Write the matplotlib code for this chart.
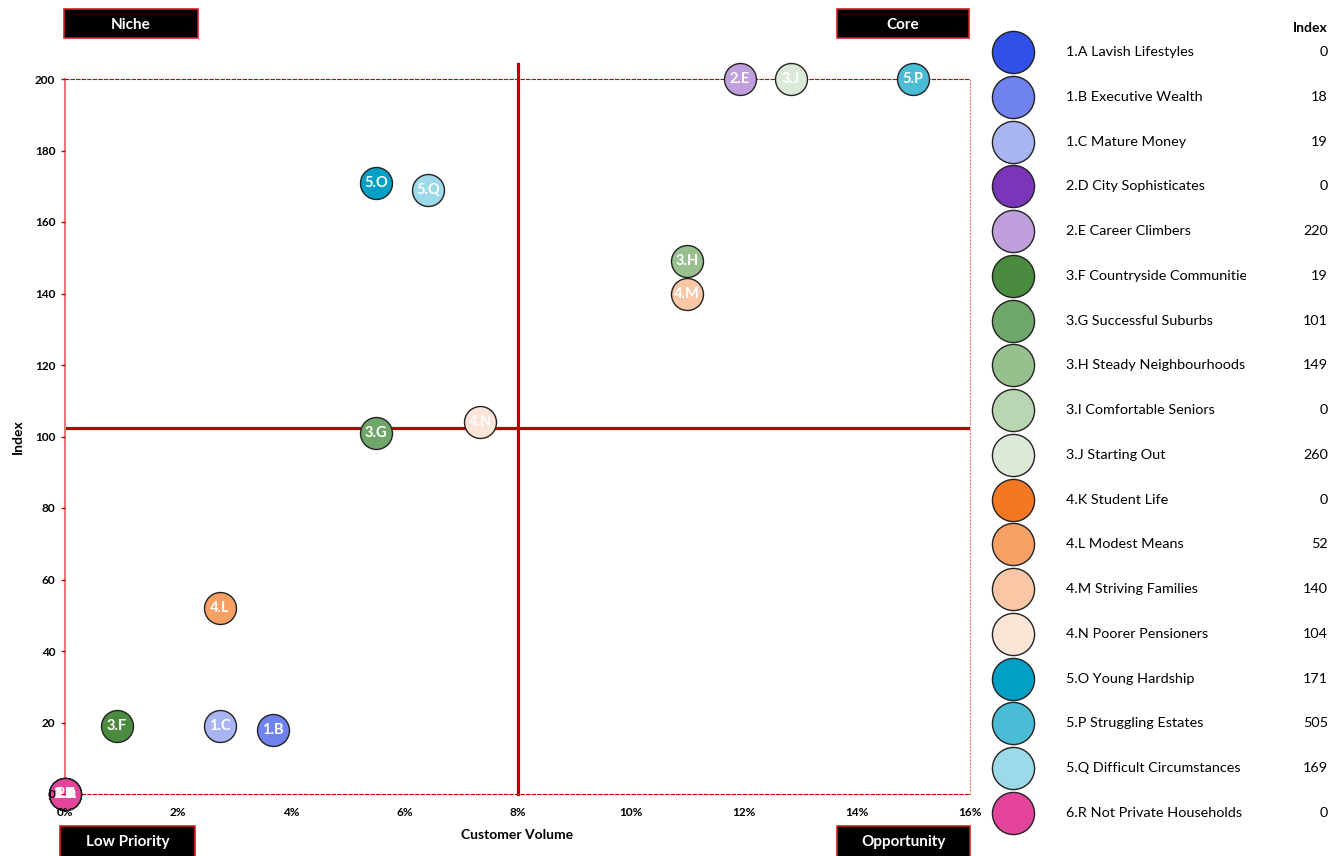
import matplotlib.pyplot as plt
from matplotlib.patches import Rectangle

plt.rcParams['font.family'] = ['Lato', 'DejaVu Sans']

# segment codes, names, customer volume (%), index (plotted value capped at 200)
codes = ['1.A', '1.B', '1.C', '2.D', '2.E', '3.F', '3.G', '3.H', '3.I',
         '3.J', '4.K', '4.L', '4.M', '4.N', '5.O', '5.P', '5.Q', '6.R']
names = ['Lavish Lifestyles', 'Executive Wealth', 'Mature Money', 'City Sophisticates',
         'Career Climbers', 'Countryside Communities', 'Successful Suburbs',
         'Steady Neighbourhoods', 'Comfortable Seniors', 'Starting Out', 'Student Life',
         'Modest Means', 'Striving Families', 'Poorer Pensioners', 'Young Hardship',
         'Struggling Estates', 'Difficult Circumstances', 'Not Private Households']
volume = [0.0, 3.68, 2.74, 0.0, 11.93, 0.92, 5.50, 11.0, 0.0,
          12.84, 0.0, 2.74, 11.0, 7.34, 5.50, 14.99, 6.42, 0.0]
index_vals = [0, 18, 19, 0, 220, 19, 101, 149, 0,
              260, 0, 52, 140, 104, 171, 505, 169, 0]
colors = ['#3050E8', '#6F82EE', '#A9B5F3', '#7B35B8', '#BFA0DC', '#4B8B3F',
          '#6FA66A', '#97C08E', '#BAD5B2', '#DDE9D8', '#F47722', '#F7A066',
          '#F9C7A5', '#FCE4D6', '#00A0C6', '#4ABCD6', '#9CD9E9', '#E4449A']

avg_volume = 8.0
avg_index = 102.4
y_cap = 200

plotted = [min(v, y_cap) for v in index_vals]

fig = plt.figure(figsize=(13.3, 8.56), dpi=100)
ax = fig.add_axes([65 / 1330, 1 - 794 / 856, 905 / 1330, 715 / 856])

red = '#C00000'
ax.axvline(avg_volume, ymin=0, ymax=204.2 / 200, color=red, lw=2.3, clip_on=False, zorder=2)
ax.axhline(avg_index, color=red, lw=2.3, zorder=2)

for x, y, c, code in zip(volume, plotted, colors, codes):
    ax.scatter(x, y, s=530, color=c, edgecolor='#222222', linewidth=1.0, zorder=3, clip_on=False)
    ax.text(x, y, code, color='white', fontsize=10.5, fontweight='bold',
            ha='center', va='center', zorder=4, clip_on=False)

ax.set_xlim(0, 16)
ax.set_ylim(0, 200)
ax.set_xticks(range(0, 17, 2))
ax.set_xticklabels([f'{t}%' for t in range(0, 17, 2)])
ax.set_yticks(range(0, 201, 20))
for lab in ax.get_xticklabels() + ax.get_yticklabels():
    lab.set_fontweight('bold')
    lab.set_fontsize(8.5)
ax.tick_params(axis='y', colors=red, labelcolor='black', length=3, width=1, pad=4)
ax.tick_params(axis='x', colors=red, labelcolor='black', length=0, pad=9)
ax.xaxis.set_zorder(5)
ax.yaxis.set_zorder(5)

ax.spines['left'].set_color('#E57A7A')
ax.spines['left'].set_linewidth(1.5)
ax.spines['top'].set_color(red)
ax.spines['top'].set_linestyle((0, (3, 2)))
ax.spines['top'].set_linewidth(0.8)
ax.spines['bottom'].set_color(red)
ax.spines['bottom'].set_linestyle((0, (3, 2)))
ax.spines['bottom'].set_linewidth(0.8)
ax.spines['right'].set_color('#E57A7A')
ax.spines['right'].set_linestyle((0, (1, 2)))
ax.spines['right'].set_linewidth(0.8)

ax.set_xlabel('Customer Volume', fontsize=10, fontweight='bold', labelpad=8)
ax.set_ylabel('Index', fontsize=10, fontweight='bold', labelpad=8)

# overlay in pixel coordinates for the quadrant tags and the key
ov = fig.add_axes([0, 0, 1, 1], zorder=-1)
ov.set_xlim(0, 1330)
ov.set_ylim(856, 0)
ov.axis('off')
ov.patch.set_visible(False)

tags = [('Niche', 64, 9, 134, 29), ('Core', 837, 9, 132, 29),
        ('Low Priority', 60, 826, 135, 34), ('Opportunity', 837, 826, 133, 34)]
for label, x0, y0, w, h in tags:
    ov.add_patch(Rectangle((x0, y0), w, h, facecolor='black', edgecolor='#D02020', lw=1.2))
    ov.text(x0 + w / 2, y0 + 16, label, color='white', fontsize=11, fontweight='bold',
            ha='center', va='center')

ov.text(1328, 28, 'Index', fontsize=10, fontweight='bold', ha='right', va='center')
row0, step = 52, (813 - 52) / 17
clip = Rectangle((1060, 0), 186, 856, transform=ov.transData)
for i, (code, name, val, c) in enumerate(zip(codes, names, index_vals, colors)):
    yy = row0 + i * step
    ov.scatter(1013, yy, s=920, color=c, edgecolor='#222222', linewidth=1.0)
    t = ov.text(1066, yy, f'{code} {name}', fontsize=10.4, ha='left', va='center')
    t.set_clip_on(True)
    t.set_clip_box(None)
    t.set_clip_path(clip)
    ov.text(1328, yy, str(val), fontsize=10.4, ha='right', va='center')

fig.savefig('out.png', dpi=100)
